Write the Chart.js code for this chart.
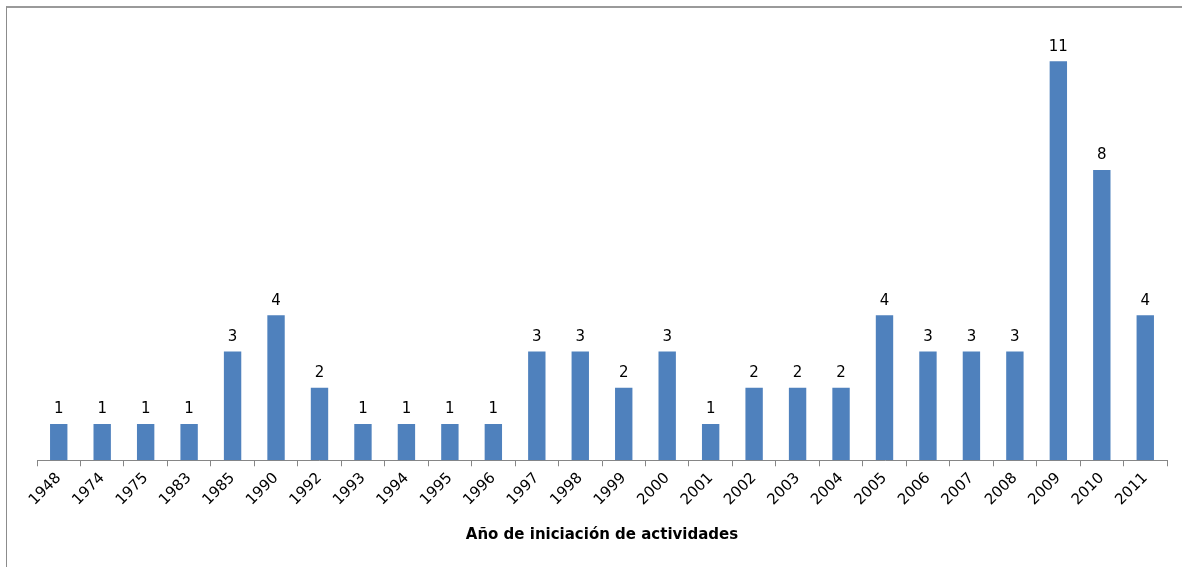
<!DOCTYPE html>
<html>
<head>
<meta charset="utf-8">
<script src="https://cdn.jsdelivr.net/npm/chart.js@4/dist/chart.umd.min.js"></script>
<style>
  html, body { margin: 0; padding: 0; background: #fff; }
  #wrap { position: relative; width: 1182px; height: 567px; }
  #frame { position: absolute; left: 6px; top: 6px; right: 0; bottom: 0;
           border-left: 1px solid #8c8c8c; border-top: 2px solid #9a9a9a; }
  canvas { position: absolute; left: 0; top: 0; }
</style>
</head>
<body>
<div id="wrap">
  <div id="frame"></div>
  <canvas id="myChart" width="1182" height="567"></canvas>
</div>
<script>
// datos del gráfico
const years = ['1948', '1974', '1975', '1983', '1985', '1990', '1992', '1993', '1994', '1995', '1996', '1997', '1998',
  '1999', '2000', '2001', '2002', '2003', '2004', '2005', '2006', '2007', '2008', '2009', '2010', '2011'];
const counts = [1, 1, 1, 1, 3, 4, 2, 1, 1, 1, 1, 3, 3, 2, 3, 1, 2, 2, 2, 4, 3, 3, 3, 11, 8, 4];
const axisTitle = 'Año de iniciación de actividades';

const labelFont = '"DejaVu Sans", "Lato", sans-serif';

// etiquetas de valor encima de cada barra
const valueLabels = {
  id: 'valueLabels',
  afterDatasetsDraw(chart) {
    const ctx = chart.ctx;
    const meta = chart.getDatasetMeta(0);
    ctx.save();
    ctx.fillStyle = '#000';
    ctx.font = '15px ' + labelFont;
    ctx.textAlign = 'center';
    ctx.textBaseline = 'bottom';
    meta.data.forEach((bar, i) => {
      ctx.fillText(String(counts[i]), bar.x, bar.y - 7);
    });
    ctx.restore();
  }
};

const ctx = document.getElementById('myChart').getContext('2d');
const chart = new Chart(ctx, {
  type: 'bar',
  data: {
    labels: years,
    datasets: [{
      data: counts,
      backgroundColor: '#4f81bd',
      borderWidth: 0,
      categoryPercentage: 1,
      barPercentage: 0.4
    }]
  },
  options: {
    responsive: false,
    animation: false,
    layout: { padding: { left: 37, right: 15, top: 25, bottom: 23 } },
    plugins: {
      legend: { display: false },
      tooltip: { enabled: false }
    },
    scales: {
      x: {
        offset: true,
        grid: { display: true, drawOnChartArea: false, drawTicks: true, tickLength: 6, color: '#868686', offset: true },
        border: { display: true, color: '#868686', width: 1 },
        ticks: {
          color: '#000',
          font: { family: labelFont, size: 15 },
          minRotation: 45,
          maxRotation: 45,
          autoSkip: false,
          padding: 3
        },
        title: {
          display: true,
          text: axisTitle,
          color: '#000',
          font: { family: labelFont, size: 15, weight: 'bold' },
          padding: { top: 14, bottom: 0 }
        }
      },
      y: {
        display: false,
        min: 0,
        max: 12
      }
    }
  },
  plugins: [valueLabels]
});
</script>
</body>
</html>
